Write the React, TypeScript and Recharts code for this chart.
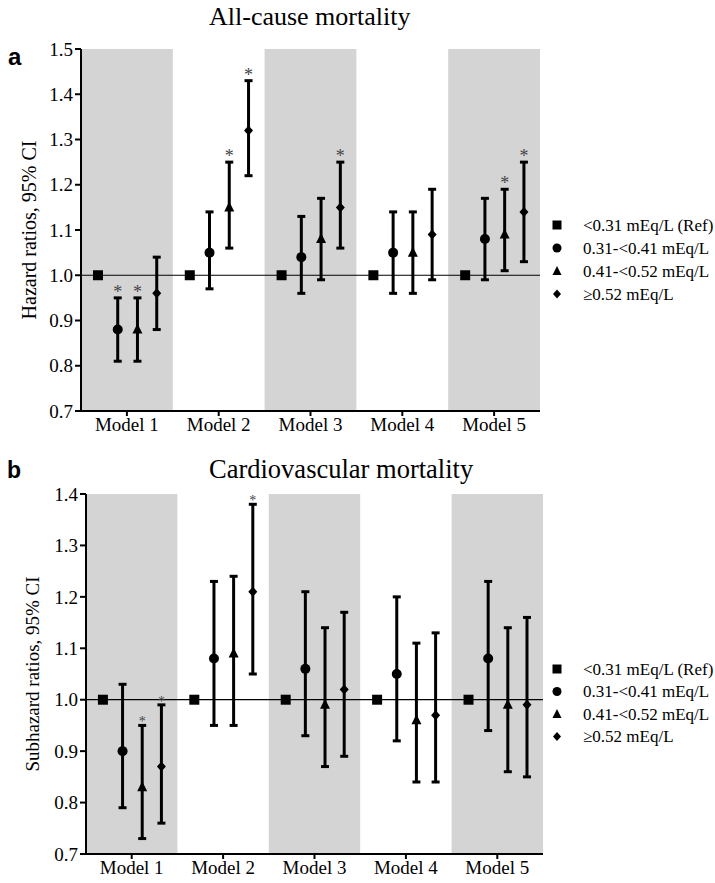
import React from 'react'
import { ComposedChart, Scatter, ErrorBar, XAxis, YAxis, ReferenceArea, ReferenceLine, Label } from 'recharts'

const models = ['Model 1', 'Model 2', 'Model 3', 'Model 4', 'Model 5']
const groups = ['<0.31 mEq/L (Ref)', '0.31-<0.41 mEq/L', '0.41-<0.52 mEq/L', '≥0.52 mEq/L']

// a: all-cause mortality (hazard ratios)
const allRef = [1, 1, 1, 1, 1]
const allQ2 = [0.88, 1.05, 1.04, 1.05, 1.08]
const allQ2Lo = [0.81, 0.97, 0.96, 0.96, 0.99]
const allQ2Hi = [0.95, 1.14, 1.13, 1.14, 1.17]
const allQ3 = [0.88, 1.15, 1.08, 1.05, 1.09]
const allQ3Lo = [0.81, 1.06, 0.99, 0.96, 1.01]
const allQ3Hi = [0.95, 1.25, 1.17, 1.14, 1.19]
const allQ4 = [0.96, 1.32, 1.15, 1.09, 1.14]
const allQ4Lo = [0.88, 1.22, 1.06, 0.99, 1.03]
const allQ4Hi = [1.04, 1.43, 1.25, 1.19, 1.25]
const allSigQ2 = [true, false, false, false, false]
const allSigQ3 = [true, true, false, false, true]
const allSigQ4 = [false, true, true, false, true]
const allTicks = [0.7, 0.8, 0.9, 1.0, 1.1, 1.2, 1.3, 1.4, 1.5]

// b: cardiovascular mortality (subhazard ratios)
const cvRef = [1, 1, 1, 1, 1]
const cvQ2 = [0.9, 1.08, 1.06, 1.05, 1.08]
const cvQ2Lo = [0.79, 0.95, 0.93, 0.92, 0.94]
const cvQ2Hi = [1.03, 1.23, 1.21, 1.2, 1.23]
const cvQ3 = [0.83, 1.09, 0.99, 0.96, 0.99]
const cvQ3Lo = [0.73, 0.95, 0.87, 0.84, 0.86]
const cvQ3Hi = [0.95, 1.24, 1.14, 1.11, 1.14]
const cvQ4 = [0.87, 1.21, 1.02, 0.97, 0.99]
const cvQ4Lo = [0.76, 1.05, 0.89, 0.84, 0.85]
const cvQ4Hi = [0.99, 1.38, 1.17, 1.13, 1.16]
const cvSigQ2 = [false, false, false, false, false]
const cvSigQ3 = [true, false, false, false, false]
const cvSigQ4 = [true, true, false, false, false]
const cvTicks = [0.7, 0.8, 0.9, 1.0, 1.1, 1.2, 1.3, 1.4]

const OFFSETS = [-0.315, -0.1, 0.115, 0.325]
const SERIF = '"Liberation Serif", "Times New Roman", serif'
const SANS = '"Liberation Sans", Arial, sans-serif'

const pts = (est: number[], g: number, lo?: number[], hi?: number[]) =>
  est.map((v, i) => ({ x: i + 0.5 + OFFSETS[g], y: v, err: lo && hi ? [v - lo[i], hi[i] - v] : [0, 0] }))

const starPts = (hi: number[], sig: boolean[], g: number) =>
  hi.map((h, i) => ({ x: i + 0.5 + OFFSETS[g], y: h })).filter((_, i) => sig[i])

const Square = (p: any) => <rect x={p.cx - 5} y={p.cy - 5} width={10} height={10} fill="#000" />
const Dot = (p: any) => <circle cx={p.cx} cy={p.cy} r={5} fill="#000" />
const Tri = (p: any) => (
  <polygon points={`${p.cx},${p.cy - 6} ${p.cx + 5},${p.cy + 4} ${p.cx - 5},${p.cy + 4}`} fill="#000" />
)
const Diamond = (p: any) => (
  <polygon points={`${p.cx},${p.cy - 5} ${p.cx + 4.5},${p.cy} ${p.cx},${p.cy + 5} ${p.cx - 4.5},${p.cy}`} fill="#000" />
)

type PanelProps = {
  top: number
  height: number
  margin: { top: number; right: number; bottom: number; left: number }
  yWidth: number
  domain: [number, number]
  ticks: number[]
  yLabel: string
  yLabelX: number
  yLabelSize: number
  ref1: number[]
  q2: number[][]
  q3: number[][]
  q4: number[][]
  sig: boolean[][]
  starSize: number
  starDy: number
}

function Panel(p: PanelProps) {
  const star = (s: any) => (
    <text
      x={s.cx}
      y={s.cy + p.starDy}
      textAnchor="middle"
      fontSize={p.starSize}
      fill="#444"
      style={{ fontFamily: SERIF }}
    >
      *
    </text>
  )
  const errProps = { dataKey: 'err', direction: 'y' as const, stroke: '#000', strokeWidth: 3, width: 4 }
  return (
    <div style={{ position: 'absolute', left: 0, top: p.top }}>
      <ComposedChart width={715} height={p.height} margin={p.margin}>
        <XAxis
          type="number"
          dataKey="x"
          domain={[0, 5]}
          ticks={[0.5, 1.5, 2.5, 3.5, 4.5]}
          tickFormatter={(v: number) => models[Math.floor(v)]}
          height={29}
          axisLine={{ stroke: '#000', strokeWidth: 2 }}
          tickLine={{ stroke: '#000', strokeWidth: 2 }}
          tickSize={5}
          tickMargin={2}
          tick={{ fill: '#000', fontSize: 19, fontFamily: SERIF }}
          interval={0}
        />
        <YAxis
          type="number"
          dataKey="y"
          domain={p.domain}
          ticks={p.ticks}
          allowDataOverflow
          tickFormatter={(v: number) => v.toFixed(1)}
          width={p.yWidth}
          axisLine={{ stroke: '#000', strokeWidth: 2 }}
          tickLine={{ stroke: '#000', strokeWidth: 2 }}
          tickSize={6}
          tickMargin={2}
          tick={{ fill: '#000', fontSize: 19, fontFamily: SERIF }}
          interval={0}
        >
          <Label
            content={(lp: any) => {
              const vb = lp.viewBox || {}
              const cy = (vb.y || 0) + (vb.height || 0) / 2
              return (
                <text
                  x={p.yLabelX}
                  y={cy}
                  transform={`rotate(-90 ${p.yLabelX} ${cy})`}
                  textAnchor="middle"
                  dominantBaseline="central"
                  fontSize={p.yLabelSize}
                  fill="#000"
                  style={{ fontFamily: SERIF }}
                >
                  {p.yLabel}
                </text>
              )
            }}
          />
        </YAxis>
        <ReferenceArea x1={0} x2={1} fill="#d4d4d4" fillOpacity={1} stroke="none" />
        <ReferenceArea x1={2} x2={3} fill="#d4d4d4" fillOpacity={1} stroke="none" />
        <ReferenceArea x1={4} x2={5} fill="#d4d4d4" fillOpacity={1} stroke="none" />
        <ReferenceLine y={1} stroke="#000" strokeWidth={1.2} />
        <Scatter data={pts(p.ref1, 0)} shape={Square} isAnimationActive={false} />
        <Scatter data={pts(p.q2[0], 1, p.q2[1], p.q2[2])} shape={Dot} isAnimationActive={false}>
          <ErrorBar {...errProps} />
        </Scatter>
        <Scatter data={pts(p.q3[0], 2, p.q3[1], p.q3[2])} shape={Tri} isAnimationActive={false}>
          <ErrorBar {...errProps} />
        </Scatter>
        <Scatter data={pts(p.q4[0], 3, p.q4[1], p.q4[2])} shape={Diamond} isAnimationActive={false}>
          <ErrorBar {...errProps} />
        </Scatter>
        <Scatter data={starPts(p.q2[2], p.sig[0], 1)} shape={star} isAnimationActive={false} />
        <Scatter data={starPts(p.q3[2], p.sig[1], 2)} shape={star} isAnimationActive={false} />
        <Scatter data={starPts(p.q4[2], p.sig[2], 3)} shape={star} isAnimationActive={false} />
      </ComposedChart>
    </div>
  )
}

function LegendBlock({ x, y, gap }: { x: number; y: number; gap: number }) {
  const marks = [
    (cx: number, cy: number) => <rect x={cx - 4.5} y={cy - 4.5} width={9} height={9} fill="#000" />,
    (cx: number, cy: number) => <circle cx={cx} cy={cy} r={4.5} fill="#000" />,
    (cx: number, cy: number) => (
      <polygon points={`${cx},${cy - 5} ${cx + 4.5},${cy + 4} ${cx - 4.5},${cy + 4}`} fill="#000" />
    ),
    (cx: number, cy: number) => (
      <polygon points={`${cx},${cy - 4.5} ${cx + 4},${cy} ${cx},${cy + 4.5} ${cx - 4},${cy}`} fill="#000" />
    ),
  ]
  return (
    <g>
      {groups.map((g, i) => (
        <g key={g}>
          {marks[i](x, y + i * gap)}
          <text
            x={x + 26}
            y={y + i * gap}
            dominantBaseline="central"
            fontSize={17}
            fill="#000"
            style={{ fontFamily: SERIF }}
          >
            {g}
          </text>
        </g>
      ))}
    </g>
  )
}

export default function App() {
  return (
    <div style={{ position: 'absolute', left: 0, top: 0, width: 715, height: 883, background: '#fff' }}>
      <Panel
        top={0}
        height={440}
        margin={{ top: 49, right: 175, bottom: 0, left: 20 }}
        yWidth={61}
        domain={[0.7, 1.5]}
        ticks={allTicks}
        yLabel="Hazard ratios, 95% CI"
        yLabelX={29}
        yLabelSize={20}
        ref1={allRef}
        q2={[allQ2, allQ2Lo, allQ2Hi]}
        q3={[allQ3, allQ3Lo, allQ3Hi]}
        q4={[allQ4, allQ4Lo, allQ4Hi]}
        sig={[allSigQ2, allSigQ3, allSigQ4]}
        starSize={18}
        starDy={0}
      />
      <Panel
        top={440}
        height={443}
        margin={{ top: 54, right: 172, bottom: 0, left: 20 }}
        yWidth={66}
        domain={[0.7, 1.4]}
        ticks={cvTicks}
        yLabel="Subhazard ratios, 95% CI"
        yLabelX={32}
        yLabelSize={19}
        ref1={cvRef}
        q2={[cvQ2, cvQ2Lo, cvQ2Hi]}
        q3={[cvQ3, cvQ3Lo, cvQ3Hi]}
        q4={[cvQ4, cvQ4Lo, cvQ4Hi]}
        sig={[cvSigQ2, cvSigQ3, cvSigQ4]}
        starSize={14}
        starDy={1}
      />
      <svg
        width={715}
        height={883}
        style={{ position: 'absolute', left: 0, top: 0, pointerEvents: 'none' }}
      >
        <text x={209} y={25} fontSize={26} fill="#000" style={{ fontFamily: SERIF }}>
          All-cause mortality
        </text>
        <text x={209} y={478} fontSize={26.5} fill="#000" style={{ fontFamily: SERIF }}>
          Cardiovascular mortality
        </text>
        <text x={8} y={65} fontSize={24} fontWeight="bold" fill="#000" style={{ fontFamily: SANS }}>
          a
        </text>
        <text x={7} y={478} fontSize={23} fontWeight="bold" fill="#000" style={{ fontFamily: SANS }}>
          b
        </text>
        <LegendBlock x={557} y={225} gap={23} />
        <LegendBlock x={557} y={669} gap={22.5} />
      </svg>
    </div>
  )
}
